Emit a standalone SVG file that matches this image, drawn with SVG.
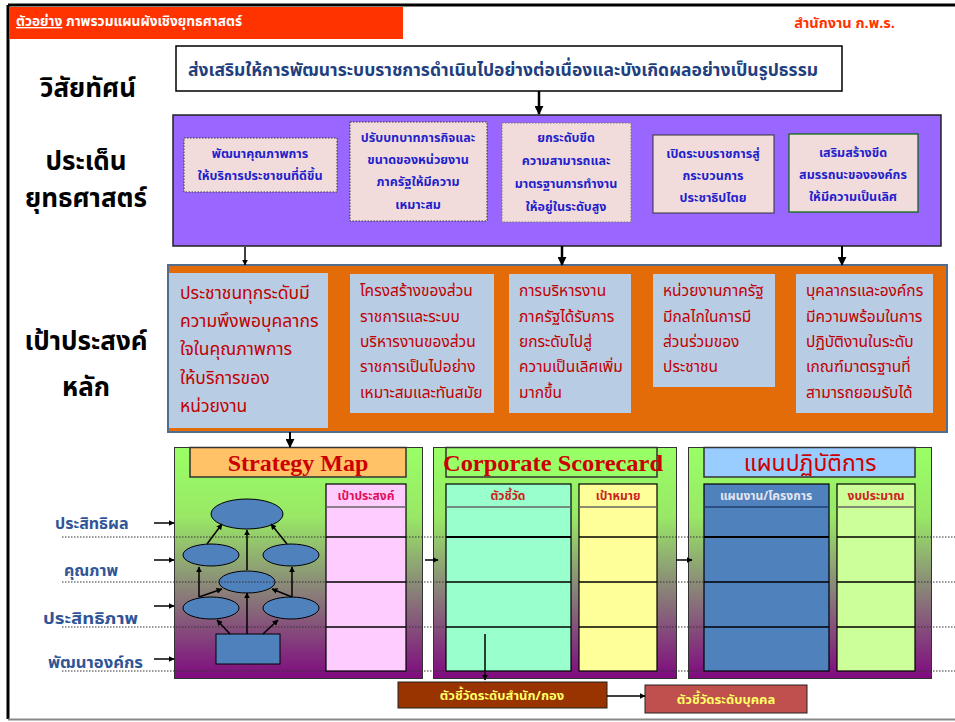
<svg xmlns="http://www.w3.org/2000/svg" width="955" height="722" viewBox="0 0 955 722">
<defs>
<style>
.th{font-family:"Noto Sans Thai","Noto Sans","DejaVu Sans",sans-serif}
.lbl{font-size:26px;font-weight:bold;fill:#000;text-anchor:middle}
.iss{font-size:12.5px;font-weight:bold;fill:#1F1FCC;text-anchor:middle}
.goal{font-size:15.5px;fill:#C00000}
.side{font-size:16px;font-weight:bold;fill:#2F5597}
.hdr{font-size:12px;font-weight:bold;fill:#E0105A;text-anchor:middle}
.title{font-family:"Liberation Serif",serif;font-weight:bold;fill:#CC0000;text-anchor:middle}
.ln{stroke:#000;stroke-width:1.5;fill:none}
.cn{stroke:#000;stroke-width:1.5;fill:none;marker-end:url(#ah)}
.ell{fill:#4F81BD;stroke:#000;stroke-width:1}
</style>
<marker id="ah" viewBox="0 0 10 10" refX="9" refY="5" markerWidth="6" markerHeight="6" orient="auto" markerUnits="userSpaceOnUse"><path d="M0,0 L10,5 L0,10 z" fill="#000"/></marker>
<marker id="ahb" viewBox="0 0 10 10" refX="9" refY="5" markerWidth="9" markerHeight="9" orient="auto" markerUnits="userSpaceOnUse"><path d="M0,0 L10,5 L0,10 z" fill="#000"/></marker>
<linearGradient id="pg" x1="0" y1="0" x2="0" y2="1">
<stop offset="0" stop-color="#99FF66"/>
<stop offset="0.3" stop-color="#99E866"/>
<stop offset="0.6" stop-color="#8A8878"/>
<stop offset="1" stop-color="#7F0A7F"/>
</linearGradient>
</defs>
<rect width="955" height="722" fill="#fff"/>
<g id="frame">
<line x1="8" y1="5" x2="955" y2="5" stroke="#000" stroke-width="3"/>
<line x1="8" y1="5" x2="8" y2="719" stroke="#000" stroke-width="3"/>
<line x1="8" y1="719.5" x2="955" y2="719.5" stroke="#888" stroke-width="2"/>
</g>
<g id="header">
<rect x="9" y="7" width="394" height="32" fill="#FF3300"/>
<text class="th" x="16" y="26" font-size="13.5" font-weight="bold" fill="#fff" textLength="226" lengthAdjust="spacingAndGlyphs"><tspan text-decoration="underline">ตัวอย่าง</tspan> ภาพรวมแผนผังเชิงยุทธศาสตร์</text>
<text class="th" x="895" y="28" font-size="14.5" font-weight="bold" fill="#FF3300" text-anchor="end">สำนักงาน ก.พ.ร.</text>
</g>
<g id="labels">
<text class="th lbl" x="88" y="97">วิสัยทัศน์</text>
<text class="th lbl" x="86" y="170">ประเด็น</text>
<text class="th lbl" x="86" y="207">ยุทธศาสตร์</text>
<text class="th lbl" x="86" y="350">เป้าประสงค์</text>
<text class="th lbl" x="86" y="396">หลัก</text>
</g>
<g id="vision">
<rect x="176" y="46" width="666" height="45" fill="#fff" stroke="#000" stroke-width="1.5"/>
<text class="th" x="188" y="76" font-size="18" font-weight="bold" fill="#1F3F7F" textLength="630" lengthAdjust="spacingAndGlyphs">ส่งเสริมให้การพัฒนาระบบราชการดำเนินไปอย่างต่อเนื่องและบังเกิดผลอย่างเป็นรูปธรรม</text>
</g>
<g id="issues">
<rect x="173" y="115" width="768" height="131" fill="#9966FF" stroke="#222" stroke-width="1.5"/>
</g>
<g id="issue1">
<rect x="184" y="138" width="153" height="54" fill="#F2DCDB" stroke="#333" stroke-dasharray="1.5 1.5"/>
<text class="th iss" x="260" y="158">พัฒนาคุณภาพการ</text>
<text class="th iss" x="260" y="180">ให้บริการประชาชนที่ดีขึ้น</text>
</g>
<g id="issue2">
<rect x="350" y="122" width="137" height="99" fill="#F2DCDB" stroke="#333" stroke-dasharray="1.5 1.5"/>
<text class="th iss" x="418" y="142">ปรับบทบาทภารกิจและ</text>
<text class="th iss" x="418" y="164">ขนาดของหน่วยงาน</text>
<text class="th iss" x="418" y="186">ภาครัฐให้มีความ</text>
<text class="th iss" x="418" y="209">เหมาะสม</text>
</g>
<g id="issue3">
<rect x="502" y="123" width="129" height="99" fill="#F2DCDB" stroke="#777" stroke-dasharray="1.5 1.5"/>
<text class="th iss" x="566" y="142">ยกระดับขีด</text>
<text class="th iss" x="566" y="165">ความสามารถและ</text>
<text class="th iss" x="566" y="188">มาตรฐานการทำงาน</text>
<text class="th iss" x="566" y="211">ให้อยู่ในระดับสูง</text>
</g>
<g id="issue4">
<rect x="653" y="135" width="121" height="78" fill="#F2DCDB" stroke="#333" stroke-width="1"/>
<text class="th iss" x="713" y="158">เปิดระบบราชการสู่</text>
<text class="th iss" x="713" y="180">กระบวนการ</text>
<text class="th iss" x="713" y="202">ประชาธิปไตย</text>
</g>
<g id="issue5">
<rect x="789" y="134" width="129" height="78" fill="#F2DCDB" stroke="#006600" stroke-width="1.2"/>
<text class="th iss" x="853" y="157">เสริมสร้างขีด</text>
<text class="th iss" x="853" y="179">สมรรถนะขององค์กร</text>
<text class="th iss" x="853" y="201">ให้มีความเป็นเลิศ</text>
</g>
<g id="goals">
<rect x="168" y="265" width="779" height="167" fill="#E36C09" stroke="#4F6D8F" stroke-width="2"/>
</g>
<g id="goal1">
<rect x="169" y="273" width="159" height="155" fill="#B8CCE4"/>
<text class="th goal" x="180" y="299" style="font-size:17.5px">ประชาชนทุกระดับมี</text>
<text class="th goal" x="180" y="327" style="font-size:17.5px">ความพึงพอบุคลากร</text>
<text class="th goal" x="180" y="355" style="font-size:17.5px">ใจในคุณภาพการ</text>
<text class="th goal" x="180" y="384" style="font-size:17.5px">ให้บริการของ</text>
<text class="th goal" x="180" y="412" style="font-size:17.5px">หน่วยงาน</text>
</g>
<g id="goal2">
<rect x="350" y="274" width="144" height="139" fill="#B8CCE4"/>
<text class="th goal" x="360" y="296">โครงสร้างของส่วน</text>
<text class="th goal" x="360" y="322">ราชการและระบบ</text>
<text class="th goal" x="360" y="347">บริหารงานของส่วน</text>
<text class="th goal" x="360" y="372">ราชการเป็นไปอย่าง</text>
<text class="th goal" x="360" y="398">เหมาะสมและทันสมัย</text>
</g>
<g id="goal3">
<rect x="509" y="274" width="122" height="139" fill="#B8CCE4"/>
<text class="th goal" x="519" y="296">การบริหารงาน</text>
<text class="th goal" x="519" y="322">ภาครัฐได้รับการ</text>
<text class="th goal" x="519" y="347">ยกระดับไปสู่</text>
<text class="th goal" x="519" y="372">ความเป็นเลิศเพิ่ม</text>
<text class="th goal" x="519" y="398">มากขึ้น</text>
</g>
<g id="goal4">
<rect x="653" y="274" width="122" height="113" fill="#B8CCE4"/>
<text class="th goal" x="663" y="296">หน่วยงานภาครัฐ</text>
<text class="th goal" x="663" y="322">มีกลไกในการมี</text>
<text class="th goal" x="663" y="347">ส่วนร่วมของ</text>
<text class="th goal" x="663" y="372">ประชาชน</text>
</g>
<g id="goal5">
<rect x="796" y="274" width="137" height="139" fill="#B8CCE4"/>
<text class="th goal" x="806" y="296">บุคลากรและองค์กร</text>
<text class="th goal" x="806" y="322">มีความพร้อมในการ</text>
<text class="th goal" x="806" y="347">ปฏิบัติงานในระดับ</text>
<text class="th goal" x="806" y="372">เกณฑ์มาตรฐานที่</text>
<text class="th goal" x="806" y="398">สามารถยอมรับได้</text>
</g>
<g id="strategy-map">
<rect x="174.5" y="447.5" width="248" height="231" fill="url(#pg)" stroke="#333" stroke-width="1"/>
<rect x="190" y="447.5" width="216" height="29.5" fill="#FFC266" stroke="#333" stroke-width="1.5"/>
<text class="title" x="298" y="471" font-size="24">Strategy Map</text>
<rect x="326" y="484" width="80" height="187" fill="#FFCCFF" stroke="#000" stroke-width="1.2"/>
<line x1="326" y1="507" x2="406" y2="507" stroke="#666" stroke-width="1.5"/>
<line x1="326" y1="537" x2="406" y2="537" class="ln"/>
<line x1="326" y1="582" x2="406" y2="582" class="ln"/>
<line x1="326" y1="627" x2="406" y2="627" class="ln"/>
<text class="th hdr" x="366" y="500">เป้าประสงค์</text>
</g>
<g id="n-top"><ellipse class="ell" cx="247" cy="514" rx="36" ry="15"/></g>
<g id="n-midl"><ellipse class="ell" cx="211" cy="555" rx="28" ry="11"/></g>
<g id="n-midr"><ellipse class="ell" cx="291" cy="555" rx="28" ry="11"/></g>
<g id="n-ctr"><ellipse class="ell" cx="247" cy="582" rx="28" ry="11"/></g>
<g id="n-lowl"><ellipse class="ell" cx="211" cy="608" rx="28" ry="11"/></g>
<g id="n-lowr"><ellipse class="ell" cx="291" cy="608" rx="28" ry="11"/></g>
<g id="n-base"><rect x="216" y="634" width="64" height="30" fill="#4F81BD" stroke="#000" stroke-width="1"/></g>
<g id="scorecard">
<rect x="433.5" y="447.5" width="243" height="231" fill="url(#pg)" stroke="#333" stroke-width="1"/>
<rect x="446" y="447.5" width="211" height="29.5" fill="#99FF66" stroke="#333" stroke-width="1.5"/>
<text class="title" x="553" y="471" font-size="24" textLength="220" lengthAdjust="spacingAndGlyphs">Corporate Scorecard</text>
<rect x="446" y="484" width="125" height="187" fill="#99FFCC" stroke="#000" stroke-width="1.2"/>
<rect x="579" y="484" width="78" height="187" fill="#FFFF99" stroke="#000" stroke-width="1.2"/>
<line x1="446" y1="507" x2="571" y2="507" stroke="#666" stroke-width="1.5"/>
<line x1="579" y1="507" x2="657" y2="507" stroke="#666" stroke-width="1.5"/>
<line x1="446" y1="537" x2="571" y2="537" stroke="#000" stroke-width="2"/>
<line x1="579" y1="537" x2="657" y2="537" class="ln"/>
<line x1="446" y1="582" x2="571" y2="582" class="ln"/>
<line x1="579" y1="582" x2="657" y2="582" class="ln"/>
<line x1="446" y1="627" x2="571" y2="627" class="ln"/>
<line x1="579" y1="627" x2="657" y2="627" class="ln"/>
<text class="th hdr" x="508" y="500" style="fill:#CC2222">ตัวชี้วัด</text>
<text class="th hdr" x="618" y="500" style="fill:#CC2222">เป้าหมาย</text>
</g>
<g id="action-plan">
<rect x="688.5" y="447.5" width="243" height="231" fill="url(#pg)" stroke="#333" stroke-width="1"/>
<rect x="704" y="447.5" width="211" height="29.5" fill="#99CCFF" stroke="#333" stroke-width="1.5"/>
<text class="th" x="810" y="471" font-size="23" fill="#CC0000" text-anchor="middle">แผนปฏิบัติการ</text>
<rect x="704" y="484" width="125" height="187" fill="#4F81BD" stroke="#000" stroke-width="1.2"/>
<rect x="837" y="484" width="78" height="187" fill="#CCFF99" stroke="#000" stroke-width="1.2"/>
<line x1="704" y1="507" x2="829" y2="507" stroke="#1F3F6F" stroke-width="1.5"/>
<line x1="837" y1="507" x2="915" y2="507" stroke="#666" stroke-width="1.5"/>
<line x1="704" y1="537" x2="829" y2="537" stroke="#000" stroke-width="2"/>
<line x1="837" y1="537" x2="915" y2="537" class="ln"/>
<line x1="704" y1="582" x2="829" y2="582" class="ln"/>
<line x1="837" y1="582" x2="915" y2="582" class="ln"/>
<line x1="704" y1="627" x2="829" y2="627" class="ln"/>
<line x1="837" y1="627" x2="915" y2="627" class="ln"/>
<text class="th hdr" x="766" y="500" style="fill:#E6E6F0">แผนงาน/โครงการ</text>
<text class="th hdr" x="876" y="500" style="fill:#CC2222">งบประมาณ</text>
</g>
<g id="perspectives">
<text class="th side" x="55" y="529">ประสิทธิผล</text>
<text class="th side" x="64" y="576">คุณภาพ</text>
<text class="th side" x="43" y="624" textLength="95" lengthAdjust="spacingAndGlyphs">ประสิทธิภาพ</text>
<text class="th side" x="48" y="668" textLength="95" lengthAdjust="spacingAndGlyphs">พัฒนาองค์กร</text>
</g>
<g id="kpi-unit">
<rect x="398" y="682" width="209" height="26" fill="#993300" stroke="#222" stroke-width="1"/>
<text class="th" x="502" y="700" font-size="13" font-weight="bold" fill="#FFFF66" text-anchor="middle">ตัวชี้วัดระดับสำนัก/กอง</text>
</g>
<g id="kpi-person">
<rect x="645" y="685" width="162" height="28" fill="#C0504D" stroke="#222" stroke-width="1"/>
<text class="th" x="726" y="704" font-size="13" font-weight="bold" fill="#FFFF66" text-anchor="middle">ตัวชี้วัดระดับบุคคล</text>
</g>
<g id="guides" stroke="#333" stroke-width="1" stroke-dasharray="1.5 1.5">
<line x1="62" y1="537" x2="326" y2="537"/><line x1="406" y1="537" x2="446" y2="537"/><line x1="657" y1="537" x2="704" y2="537"/><line x1="915" y1="537" x2="955" y2="537"/>
<line x1="62" y1="582" x2="326" y2="582"/><line x1="406" y1="582" x2="446" y2="582"/><line x1="657" y1="582" x2="704" y2="582"/><line x1="915" y1="582" x2="955" y2="582"/>
<line x1="62" y1="627" x2="326" y2="627"/><line x1="406" y1="627" x2="446" y2="627"/><line x1="657" y1="627" x2="704" y2="627"/><line x1="915" y1="627" x2="955" y2="627"/>
<line x1="62" y1="671" x2="326" y2="671"/><line x1="406" y1="671" x2="446" y2="671"/><line x1="657" y1="671" x2="704" y2="671"/><line x1="915" y1="671" x2="955" y2="671"/>
</g>
<g id="connectors">
<line class="cn" x1="539" y1="91" x2="539" y2="114" style="stroke-width:2.5;marker-end:url(#ahb)"/>
<line class="cn" x1="245" y1="247" x2="245" y2="265"/>
<line class="cn" x1="562" y1="246" x2="562" y2="265" style="stroke-width:2.5;marker-end:url(#ahb)"/>
<line class="cn" x1="842" y1="246" x2="842" y2="265" style="stroke-width:2;marker-end:url(#ahb)"/>
<line class="cn" x1="290" y1="432" x2="290" y2="447" style="stroke-width:2;marker-end:url(#ahb)"/>
<line class="cn" x1="154" y1="523" x2="174" y2="523"/>
<line class="cn" x1="154" y1="560" x2="174" y2="560"/>
<line class="cn" x1="154" y1="606" x2="174" y2="606"/>
<line class="cn" x1="154" y1="659" x2="174" y2="659"/>
<line class="cn" x1="425" y1="560" x2="438" y2="560"/>
<line class="cn" x1="676" y1="560" x2="692" y2="560"/>
<line class="cn" x1="485" y1="634" x2="485" y2="680"/>
<line class="cn" x1="607" y1="696" x2="645" y2="696"/>
<line class="cn" x1="247" y1="634" x2="247" y2="593"/>
<line class="cn" x1="230" y1="634" x2="217" y2="620"/>
<line class="cn" x1="263" y1="634" x2="278" y2="620"/>
<line class="cn" x1="199" y1="597" x2="199" y2="567"/>
<line class="cn" x1="292" y1="597" x2="292" y2="567"/>
<line class="cn" x1="199" y1="597" x2="222" y2="589"/>
<line class="cn" x1="292" y1="597" x2="272" y2="589"/>
<line class="cn" x1="247" y1="570" x2="247" y2="530"/>
<line class="cn" x1="207" y1="544" x2="222" y2="524"/>
<line class="cn" x1="287" y1="544" x2="271" y2="524"/>
</g>
</svg>
